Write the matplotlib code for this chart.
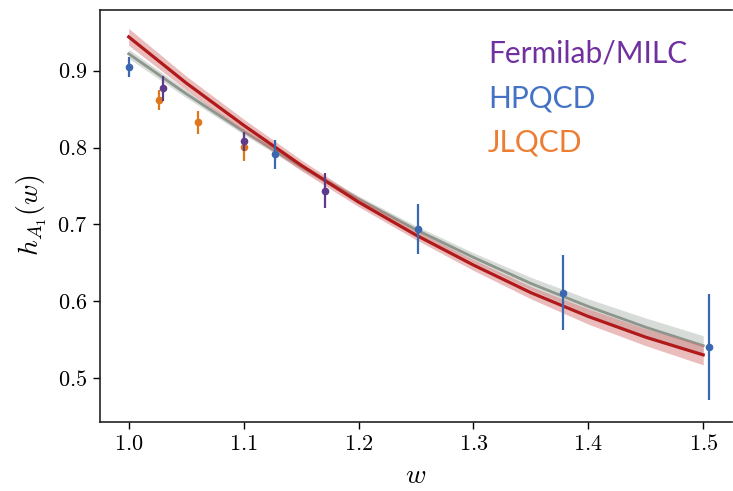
import matplotlib
matplotlib.use("Agg")
import matplotlib.pyplot as plt
import numpy as np

# lattice data points (w, h_A1(w), error)
fnal_w = [1.03, 1.10, 1.171]
fnal_h = [0.877, 0.808, 0.744]
fnal_err = [0.016, 0.012, 0.023]

hpqcd_w = [1.0, 1.127, 1.252, 1.378, 1.505]
hpqcd_h = [0.905, 0.791, 0.694, 0.611, 0.540]
hpqcd_err = [0.013, 0.019, 0.032, 0.049, 0.069]

jlqcd_w = [1.026, 1.060, 1.10]
jlqcd_h = [0.862, 0.833, 0.801]
jlqcd_err = [0.013, 0.015, 0.018]

# fit curves
curve_w = [1.0, 1.05, 1.10, 1.15, 1.20, 1.25, 1.30, 1.35, 1.40, 1.45, 1.50]
red_h = [0.944, 0.884, 0.829, 0.777, 0.729, 0.686, 0.647, 0.611, 0.580, 0.553, 0.530]
red_err = [0.011, 0.009, 0.008, 0.007, 0.006, 0.006, 0.007, 0.008, 0.010, 0.011, 0.013]
gray_h = [0.922, 0.870, 0.821, 0.775, 0.733, 0.693, 0.657, 0.623, 0.593, 0.566, 0.542]
gray_err = [0.006, 0.005, 0.004, 0.004, 0.004, 0.005, 0.006, 0.008, 0.010, 0.012, 0.013]

labels = ["Fermilab/MILC", "HPQCD", "JLQCD"]
label_colors = ["#7030A0", "#4472C4", "#ED7D31"]

plt.rcParams["mathtext.fontset"] = "cm"
plt.rcParams["font.family"] = "serif"
plt.rcParams["font.serif"] = ["cmr10"]
plt.rcParams["axes.formatter.use_mathtext"] = True

fig = plt.figure(figsize=(7.33, 4.91), dpi=100)
ax = fig.add_axes([0.1364, 0.1411, 0.8622, 0.8385])

cw = np.array(curve_w)
rh, re = np.array(red_h), np.array(red_err)
gh, ge = np.array(gray_h), np.array(gray_err)

ax.fill_between(cw, gh - ge, gh + ge, color="#b9c0b9", alpha=0.55, lw=0, zorder=1)
ax.plot(cw, gh, color="#8c968c", lw=2.0, zorder=2)
ax.fill_between(cw, rh - re, rh + re, color="#d77a7a", alpha=0.5, lw=0, zorder=3)
ax.plot(cw, rh, color="#b01a1a", lw=2.3, zorder=4)

ax.errorbar(jlqcd_w, jlqcd_h, yerr=jlqcd_err, fmt="o", color="#e0761c",
            ms=4.5, elinewidth=1.6, capsize=0, zorder=5)
ax.errorbar(fnal_w, fnal_h, yerr=fnal_err, fmt="o", color="#5e3a8a",
            ms=4.5, elinewidth=1.6, capsize=0, zorder=6)
ax.errorbar(hpqcd_w, hpqcd_h, yerr=hpqcd_err, fmt="o", color="#3a68b0",
            ms=4.5, elinewidth=1.6, capsize=0, zorder=6)

ax.set_xlim(0.975, 1.525)
ax.set_ylim(0.443, 0.979)
ax.set_xticks([1.0, 1.1, 1.2, 1.3, 1.4, 1.5])
ax.set_yticks([0.5, 0.6, 0.7, 0.8, 0.9])
ax.tick_params(direction="out", length=5, width=1, labelsize=16, pad=4)
for s in ax.spines.values():
    s.set_linewidth(1.2)
    s.set_color("#222222")
# the source image is cut just before the right frame line
ax.spines["right"].set_visible(False)

ax.set_xlabel("$w$", fontsize=20, labelpad=6)
ax.set_ylabel("$h_{A_1}(w)$", fontsize=20, labelpad=6)

ys = [1 - 63 / 491, 1 - 107 / 491, 1 - 151 / 491]
for lab, col, y in zip(labels, label_colors, ys):
    fig.text(488 / 733, y, lab, color=col, fontsize=21.5, family="Lato",
             va="baseline", ha="left")

fig.savefig("out.png", dpi=100)
